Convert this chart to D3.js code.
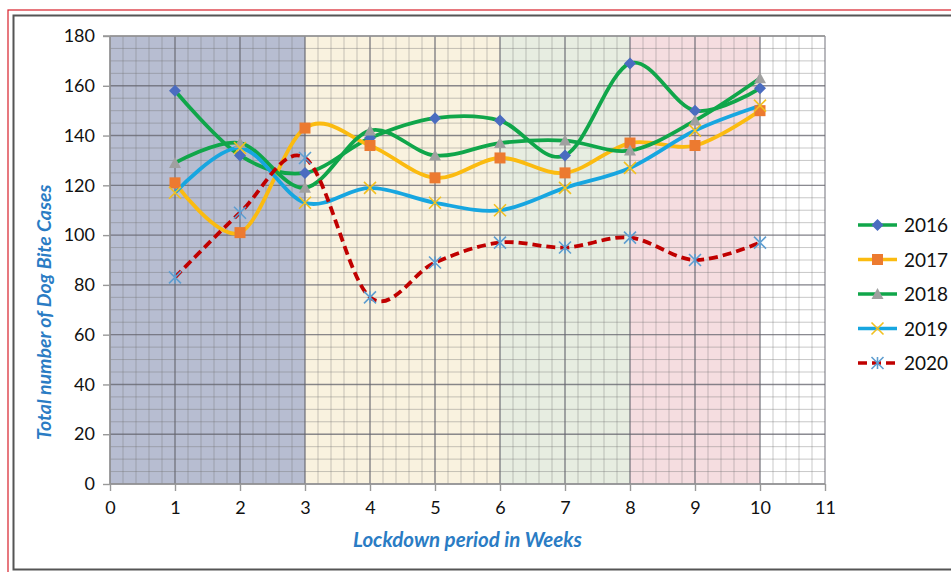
<!DOCTYPE html>
<html>
<head>
<meta charset="utf-8">
<script src="https://cdn.jsdelivr.net/npm/d3@7"></script>
<style>
  body { margin: 0; background: #fff; }
  svg { display: block; }
</style>
</head>
<body>
<script>
// DATA
var weeks = [1, 2, 3, 4, 5, 6, 7, 8, 9, 10];
var years = ["2016", "2017", "2018", "2019", "2020"];
var cases2016 = [158, 132, 125, 139, 147, 146, 132, 169, 150, 159];
var cases2017 = [121, 101, 143, 136, 123, 131, 125, 137, 136, 150];
var cases2018 = [129, 137, 119, 142, 132, 137, 138, 134, 146, 163];
var cases2019 = [117, 135, 113, 119, 113, 110, 119, 127, 142, 152];
var cases2020 = [83, 109, 131, 75, 89, 97, 95, 99, 90, 97];
var xTicks = [0, 1, 2, 3, 4, 5, 6, 7, 8, 9, 10, 11];
var yTicks = [0, 20, 40, 60, 80, 100, 120, 140, 160, 180];
// lockdown phases (week ranges) shading
var phaseStart = [0, 3, 6, 8];
var phaseEnd = [3, 6, 8, 10];
var phaseColor = ["#b7bdd1", "#f9f2df", "#e7ede1", "#f5dde0"];

var allCases = [cases2016, cases2017, cases2018, cases2019, cases2020];
var lineColor = ["#10a64a", "#fbbb10", "#10a64a", "#17a6e0", "#c00000"];
var markColor = ["#4a6cc0", "#ec7a30", "#a0a0a0", "#f2c020", "#5f9ed0"];
var markType = ["diamond", "square", "triangle", "x", "star"];

var w = 951, h = 572;
var plotL = 110, plotR = 825, plotT = 36, plotB = 484;

var svg = d3.select("body").append("svg")
    .attr("width", w)
    .attr("height", h);

// frames
svg.append("rect").attr("x", 8).attr("y", 10).attr("width", 960).attr("height", 580)
   .attr("fill", "none").attr("stroke", "#d8202a").attr("stroke-width", 1.2);
svg.append("rect").attr("x", 13.5).attr("y", 15.5).attr("width", 960).attr("height", 554)
   .attr("fill", "none").attr("stroke", "#555").attr("stroke-width", 2);

var x = d3.scaleLinear().domain([0, 11]).range([plotL, plotR]);
var y = d3.scaleLinear().domain([0, 180]).range([plotB, plotT]);

// shaded phases
svg.selectAll("rect.phase")
   .data(phaseStart)
   .enter()
   .append("rect")
   .attr("class", "phase")
   .attr("x", function(d) { return x(d); })
   .attr("y", y(180))
   .attr("width", function(d, i) { return x(phaseEnd[i]) - x(d); })
   .attr("height", y(0) - y(180))
   .attr("fill", function(d, i) { return phaseColor[i]; });

// minor grid
var g = svg.append("g");
g.selectAll("line.mx")
 .data(d3.range(0, 55).map(function(i) { return i / 5; }))
 .enter().append("line")
 .attr("x1", function(d) { return x(d); }).attr("x2", function(d) { return x(d); })
 .attr("y1", y(0)).attr("y2", y(180))
 .attr("stroke", "rgba(110,110,110,0.38)").attr("stroke-width", 1);
g.selectAll("line.my")
 .data(d3.range(0, 36).map(function(i) { return i * 5; }))
 .enter().append("line")
 .attr("x1", x(0)).attr("x2", x(11))
 .attr("y1", function(d) { return y(d); }).attr("y2", function(d) { return y(d); })
 .attr("stroke", "rgba(110,110,110,0.38)").attr("stroke-width", 1);

// major grid
g.selectAll("line.Mx")
 .data(xTicks)
 .enter().append("line")
 .attr("x1", function(d) { return x(d); }).attr("x2", function(d) { return x(d); })
 .attr("y1", y(0)).attr("y2", y(180))
 .attr("stroke", "rgba(100,100,110,0.65)").attr("stroke-width", 1.4);
g.selectAll("line.My")
 .data(yTicks)
 .enter().append("line")
 .attr("x1", x(0)).attr("x2", x(11))
 .attr("y1", function(d) { return y(d); }).attr("y2", function(d) { return y(d); })
 .attr("stroke", "rgba(100,100,110,0.65)").attr("stroke-width", 1.4);

// axes
var xAxis = d3.axisBottom(x).tickValues(xTicks).tickSize(7).tickPadding(10);
var yAxis = d3.axisLeft(y).tickValues(yTicks).tickSize(7).tickPadding(8);

var gx = svg.append("g").attr("transform", "translate(0," + y(0) + ")").call(xAxis);
var gy = svg.append("g").attr("transform", "translate(" + x(0) + ",0)").call(yAxis);
[gx, gy].forEach(function(a) {
    a.select(".domain").attr("stroke", "#999").attr("stroke-width", 1.4);
    a.selectAll(".tick line").attr("stroke", "#999").attr("stroke-width", 1.4);
    a.selectAll("text")
     .attr("font-family", "Lato, 'Open Sans', sans-serif")
     .attr("font-size", "18px")
     .attr("fill", "#111");
});
gy.select(".domain").attr("d", "M0," + y(0) + "V" + y(180));
gx.select(".domain").attr("d", "M" + x(0) + ",0H" + x(11));
svg.append("line").attr("x1", x(0) - 7).attr("x2", x(11))
   .attr("y1", y(180)).attr("y2", y(180))
   .attr("stroke", "#999").attr("stroke-width", 1.6);

// axis titles
svg.append("text")
   .attr("x", x(5.5)).attr("y", 547)
   .attr("text-anchor", "middle")
   .attr("font-family", "Lato, 'Open Sans', sans-serif")
   .attr("font-size", "20.5px").attr("font-weight", "bold").attr("font-style", "italic")
   .attr("fill", "#2a7cc4")
   .text("Lockdown period in Weeks");
svg.append("text")
   .attr("transform", "translate(51," + y(69) + ") rotate(-90)")
   .attr("text-anchor", "middle")
   .attr("font-family", "Lato, 'Open Sans', sans-serif")
   .attr("font-size", "19.5px").attr("font-weight", "bold").attr("font-style", "italic")
   .attr("fill", "#2a7cc4")
   .text("Total number of Dog Bite Cases");

// markers
function drawMark(sel, type, color) {
    if (type == "diamond") {
        sel.append("path").attr("d", "M0,-6L6,0L0,6L-6,0Z").attr("fill", color);
    } else if (type == "square") {
        sel.append("rect").attr("x", -5.5).attr("y", -5.5).attr("width", 11).attr("height", 11).attr("fill", color);
    } else if (type == "triangle") {
        sel.append("path").attr("d", "M0,-6L6,5L-6,5Z").attr("fill", color);
    } else if (type == "x") {
        sel.append("path").attr("d", "M-6,-6L6,6M-6,6L6,-6").attr("stroke", color).attr("stroke-width", 1.6);
    } else {
        sel.append("path").attr("d", "M-6,-6L6,6M-6,6L6,-6M0,-6V6").attr("stroke", color).attr("stroke-width", 1.6);
    }
}

var line = d3.line()
    .x(function(d, i) { return x(weeks[i]); })
    .y(function(d) { return y(d); })
    .curve(d3.curveCardinal.tension(0));

allCases.forEach(function(vals, k) {
    svg.append("path")
       .datum(vals)
       .attr("d", line)
       .attr("fill", "none")
       .attr("stroke", lineColor[k])
       .attr("stroke-width", 3.8)
       .attr("stroke-dasharray", k == 4 ? "9,5" : null);
});
allCases.forEach(function(vals, k) {
    svg.selectAll("g.m" + k)
       .data(vals)
       .enter()
       .append("g")
       .attr("transform", function(d, i) { return "translate(" + x(weeks[i]) + "," + y(d) + ")"; })
       .each(function() { drawMark(d3.select(this), markType[k], markColor[k]); });
});

// legend
var leg = svg.selectAll("g.leg")
   .data(years)
   .enter()
   .append("g")
   .attr("transform", function(d, i) { return "translate(858," + (225 + i * 34.5) + ")"; });
leg.append("line")
   .attr("x1", 0).attr("x2", 39).attr("y1", 0).attr("y2", 0)
   .attr("stroke", function(d, i) { return lineColor[i]; })
   .attr("stroke-width", 3.5)
   .attr("stroke-dasharray", function(d, i) { return i == 4 ? "9,5" : null; });
leg.each(function(d, i) {
    drawMark(d3.select(this).append("g").attr("transform", "translate(19.5,0)"), markType[i], markColor[i]);
});
leg.append("text")
   .attr("x", 46).attr("y", 7)
   .attr("font-family", "Lato, 'Open Sans', sans-serif")
   .attr("font-size", "19px")
   .attr("fill", "#111")
   .text(function(d) { return d; });
</script>
</body>
</html>
